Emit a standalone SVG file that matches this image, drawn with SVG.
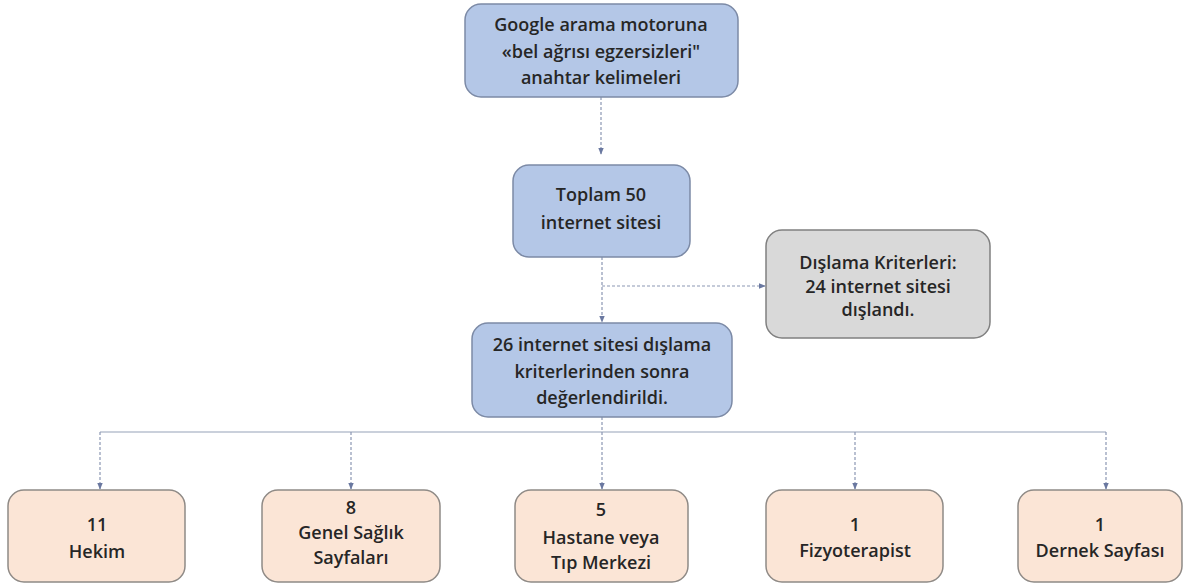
<svg xmlns="http://www.w3.org/2000/svg" width="1187" height="586" viewBox="0 0 1187 586">
<defs>
<marker id="arr" viewBox="0 0 10 10" refX="9" refY="5" markerWidth="7" markerHeight="7" markerUnits="userSpaceOnUse" orient="auto">
<path d="M0,1 L10,5 L0,9 z" fill="#6a78a0"/>
</marker>
<style>
.blue{fill:#b4c7e7;stroke:#7c8aa6;stroke-width:1.5}
.gray{fill:#d9d9d9;stroke:#808080;stroke-width:1.5}
.peach{fill:#fbe5d6;stroke:#8f8a86;stroke-width:1.5}
text{font-family:"Open Sans","Liberation Sans",sans-serif;font-weight:600;font-size:18px;fill:#262626;text-anchor:middle}
.c{fill:none;stroke:#8b97b3;stroke-width:1.2;stroke-dasharray:3 2}
.s{fill:none;stroke:#b8c0cf;stroke-width:1.5}
</style>
</defs>
<g id="connectors">
<path class="c" d="M601,97 V154" marker-end="url(#arr)"/>
<path class="c" d="M602,257 V322" marker-end="url(#arr)"/>
<path class="c" d="M602,286 H765" marker-end="url(#arr)"/>
<path class="c" d="M602,417 V432"/>
<path class="s" d="M100,432 H1106"/>
<path class="c" d="M100,432 V489" marker-end="url(#arr)"/>
<path class="c" d="M351,432 V489" marker-end="url(#arr)"/>
<path class="c" d="M602,432 V489" marker-end="url(#arr)"/>
<path class="c" d="M855,432 V489" marker-end="url(#arr)"/>
<path class="c" d="M1106,432 V489" marker-end="url(#arr)"/>
</g>
<g id="n-google">
<rect class="blue" x="465" y="4" width="273" height="93" rx="16"/>
<text x="601" y="31">Google arama motoruna</text>
<text x="601" y="58">«bel ağrısı egzersizleri"</text>
<text x="601" y="84">anahtar kelimeleri</text>
</g>
<g id="n-toplam">
<rect class="blue" x="513" y="165" width="177" height="92" rx="16"/>
<text x="601" y="201">Toplam 50</text>
<text x="601" y="229">internet sitesi</text>
</g>
<g id="n-dislama">
<rect class="gray" x="766" y="230" width="224" height="108" rx="16"/>
<text x="878" y="269">Dışlama Kriterleri:</text>
<text x="878" y="293">24 internet sitesi</text>
<text x="878" y="316">dışlandı.</text>
</g>
<g id="n-26">
<rect class="blue" x="472" y="323" width="260" height="94" rx="16"/>
<text x="602" y="351">26 internet sitesi dışlama</text>
<text x="602" y="378">kriterlerinden sonra</text>
<text x="602" y="404">değerlendirildi.</text>
</g>
<g id="n-hekim">
<rect class="peach" x="8" y="490" width="177" height="92" rx="16"/>
<text x="97" y="531">11</text>
<text x="97" y="558">Hekim</text>
</g>
<g id="n-genel">
<rect class="peach" x="262" y="490" width="178" height="92" rx="16"/>
<text x="351" y="514">8</text>
<text x="351" y="539">Genel Sağlık</text>
<text x="351" y="564">Sayfaları</text>
</g>
<g id="n-hastane">
<rect class="peach" x="515" y="490" width="173" height="92" rx="16"/>
<text x="601" y="516">5</text>
<text x="601" y="544">Hastane veya</text>
<text x="601" y="569">Tıp Merkezi</text>
</g>
<g id="n-fizyo">
<rect class="peach" x="766" y="490" width="177" height="92" rx="16"/>
<text x="855" y="531">1</text>
<text x="855" y="557">Fizyoterapist</text>
</g>
<g id="n-dernek">
<rect class="peach" x="1018" y="490" width="164" height="92" rx="16"/>
<text x="1100" y="531">1</text>
<text x="1100" y="557">Dernek Sayfası</text>
</g>
</svg>
